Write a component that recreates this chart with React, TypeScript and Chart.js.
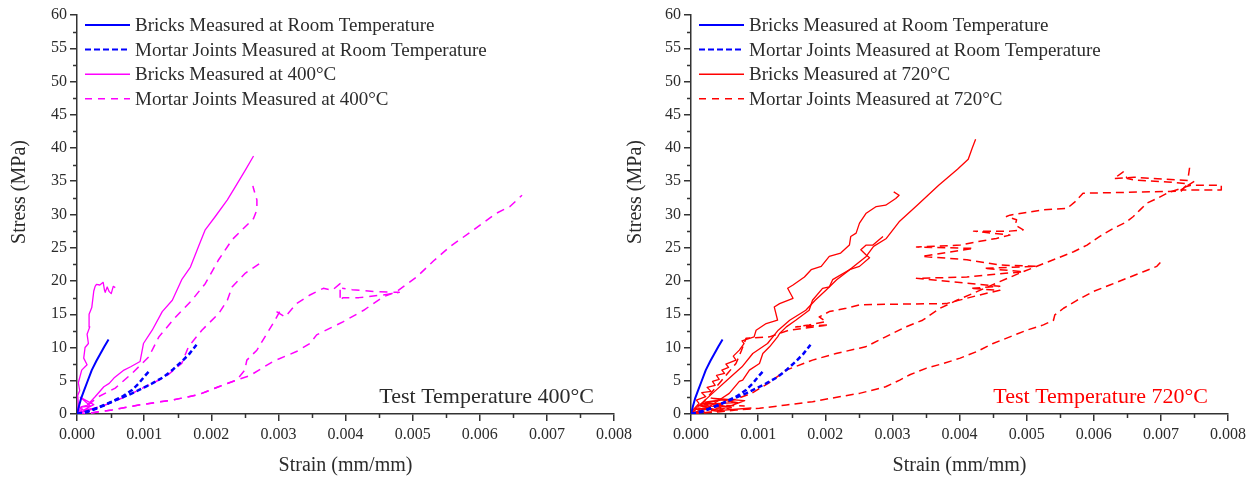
import React, { useEffect, useRef } from "react";
import { Chart, registerables } from "chart.js";

Chart.register(...registerables);

type Pt = [number, number];

// ---------- shared room-temperature curves (strain mm/mm, stress MPa) ----------
const bricksRoom: Pt[] = [
  [0, 0], [0.00003, 1.2], [0.00006, 2.3], [0.0001, 3.4], [0.00016, 5.0], [0.00022, 6.6],
  [0.00029, 8.0], [0.00035, 9.1], [0.00041, 10.2], [0.00047, 11.2],
];
const mortarRoomA: Pt[] = [
  [0, 0], [0.00017, 0.35], [0.00042, 1.35], [0.00067, 2.6], [0.00082, 3.6], [0.00092, 4.6],
  [0.001, 5.6], [0.00109, 6.6],
];
const mortarRoomB: Pt[] = [
  [0, 0], [0.00022, 0.6], [0.00052, 1.85], [0.00082, 3.1], [0.00112, 4.6], [0.00128, 5.5],
  [0.00142, 6.6], [0.00155, 7.8], [0.00167, 9.0], [0.00178, 10.4],
];

// ---------- 400 °C ----------
const bricks400A: Pt[] = [
  [0, 0], [0.00002, 1.5], [0.00001, 2.8], [0.00004, 3.5], [0.00002, 4.7], [0.00007, 6.6],
  [0.00015, 7.4], [0.0001, 8.4], [0.00012, 10.0], [0.00017, 10.6], [0.00015, 12.0],
  [0.00019, 13.1], [0.00018, 15.0], [0.00022, 16.0], [0.00025, 18.5], [0.00027, 19.2],
  [0.00029, 19.5], [0.00034, 19.4], [0.00039, 19.8], [0.00041, 18.6], [0.00042, 18.3],
  [0.00045, 19.1], [0.00048, 18.4], [0.00051, 18.1], [0.00054, 19.2], [0.00057, 19.0],
];
const bricks400B: Pt[] = [
  [0, 0], [0.00007, 1.1], [0.00015, 1.3], [0.00027, 2.6], [0.0004, 4.1], [0.00048, 4.6],
  [0.00055, 5.4], [0.0007, 6.6], [0.0008, 7.1], [0.00094, 7.9], [0.00099, 10.6],
  [0.00112, 12.6], [0.00127, 15.4], [0.00142, 17.1], [0.00156, 20.2], [0.00169, 22.1],
  [0.00181, 25.2], [0.00191, 27.7], [0.00206, 29.7], [0.00224, 32.2], [0.00236, 34.2],
  [0.00251, 36.7], [0.00263, 38.8],
];
const bricks400C: Pt[] = [
  [0, 0], [0.00012, 0.4], [0.00003, 1.0], [0.0002, 1.2], [0.00005, 2.5], [0.00025, 1.4],
  [0.0001, 0.6], [0.0003, 0.9], [0.00002, 0.2],
];
const mortar400A: Pt[] = [
  [0, 0], [0.00007, 0.6], [0.00032, 2.6], [0.00057, 3.9], [0.00082, 6.1], [0.00107, 8.6],
  [0.00122, 11.6], [0.00147, 14.6], [0.00171, 17.1], [0.00191, 19.6], [0.00211, 23.2],
  [0.00231, 26.2], [0.00251, 28.2], [0.00263, 29.4], [0.00268, 30.7], [0.00268, 32.2],
  [0.00263, 33.9], [0.00262, 34.3],
];
const mortar400B: Pt[] = [
  [0, 0], [0.0001, 0.4], [0.00042, 1.35], [0.00072, 2.6], [0.00102, 4.1], [0.00132, 5.6],
  [0.00156, 7.6], [0.00166, 10.1], [0.00186, 12.6], [0.00211, 15.1], [0.00224, 17.1],
  [0.00231, 19.1], [0.00251, 21.2], [0.00276, 22.9],
];
const mortar400C: Pt[] = [
  [0, 0], [0.0001, 0], [0.00052, 0.6], [0.00092, 1.35], [0.00142, 2.1], [0.00181, 2.9],
  [0.00211, 4.1], [0.00238, 5.1], [0.00258, 5.8], [0.00292, 7.9], [0.00327, 9.4],
  [0.00347, 10.6], [0.00357, 11.9], [0.00397, 13.9], [0.00427, 15.6], [0.00456, 17.6],
  [0.00476, 18.4], [0.00506, 20.6], [0.00531, 23.0], [0.00556, 25.2], [0.00591, 27.7],
  [0.00625, 30.2], [0.00645, 31.2], [0.00663, 32.9],
];
const mortar400D: Pt[] = [
  [0, 0], [0.0001, 0], [0.00052, 0.6], [0.00092, 1.35], [0.00142, 2.1], [0.00181, 2.9],
  [0.00211, 4.1], [0.00238, 5.1], [0.0025, 6.6], [0.00253, 8.1], [0.00268, 9.6],
  [0.00283, 12.1], [0.00295, 14.1], [0.00303, 15.6], [0.00297, 15.4], [0.0031, 14.6],
  [0.00327, 16.6], [0.00347, 17.9], [0.00367, 18.9], [0.0038, 18.6], [0.00392, 19.6],
  [0.00392, 17.0], [0.00396, 17.5], [0.0042, 17.5], [0.00456, 17.9], [0.0048, 18.3],
  [0.00445, 18.4], [0.0041, 18.7], [0.00395, 18.9],
];

// ---------- 720 °C ----------
const bricks720A: Pt[] = [
  [0, 0], [0.00003, 0.6], [0.00012, 1.6], [0.00008, 2.1], [0.00022, 2.6], [0.00016, 3.2],
  [0.0003, 3.4], [0.00024, 4.0], [0.00036, 4.3], [0.00032, 4.9], [0.00042, 5.2],
  [0.00038, 5.8], [0.0005, 6.1], [0.00046, 6.6], [0.00056, 7.0], [0.00052, 7.5],
  [0.00067, 8.1], [0.00063, 8.7], [0.00072, 9.6], [0.00079, 10.6], [0.00076, 11.0],
  [0.00094, 11.6], [0.00097, 12.6], [0.00112, 13.6], [0.00129, 14.1], [0.00124, 16.1],
  [0.00132, 16.6], [0.00152, 17.4], [0.00144, 18.9], [0.00152, 19.4], [0.00169, 20.6],
  [0.00179, 21.7], [0.00194, 22.2], [0.00206, 23.7], [0.00223, 24.2], [0.00236, 25.4],
  [0.00238, 26.7], [0.00246, 27.2], [0.00251, 28.7], [0.00261, 30.2], [0.00276, 31.2],
  [0.0029, 31.4], [0.00305, 32.4], [0.0031, 32.9], [0.00302, 33.4],
];
const bricks720B: Pt[] = [
  [0, 0], [0.0001, 1.1], [0.00032, 3.1], [0.00054, 5.1], [0.00076, 7.1], [0.00092, 9.1],
  [0.00114, 10.6], [0.0013, 12.6], [0.00147, 14.1], [0.00171, 15.6], [0.00185, 17.1],
  [0.00201, 18.6], [0.00217, 20.2], [0.00239, 21.9], [0.00261, 23.7], [0.00272, 25.2],
  [0.00291, 26.4], [0.0031, 28.9], [0.00337, 31.4], [0.00353, 32.9], [0.00369, 34.4],
  [0.00397, 36.8], [0.00413, 38.3], [0.00419, 40.0], [0.00424, 41.3],
];
const bricks720C: Pt[] = [
  [0, 0], [0.00007, 0.3], [0.00027, 1.1], [0.00042, 2.1], [0.00057, 3.1], [0.00072, 4.9],
  [0.00077, 5.1], [0.00087, 6.6], [0.00102, 7.6], [0.00107, 9.1], [0.00117, 10.1],
  [0.00129, 11.6], [0.00132, 12.1], [0.00142, 13.1], [0.00156, 14.1], [0.00176, 15.6],
  [0.00181, 17.1], [0.00196, 18.9], [0.00206, 19.1], [0.00211, 20.2], [0.00236, 21.7],
  [0.00251, 22.2], [0.00266, 23.5], [0.00261, 23.9], [0.00253, 24.7], [0.00261, 25.4],
  [0.00271, 25.4], [0.00286, 26.7],
];
const bricks720D: Pt[] = [
  [0, 0], [0.0002, 0.3], [0.00005, 0.8], [0.0004, 0.6], [0.0001, 1.3], [0.0006, 1.0],
  [0.0002, 1.8], [0.0005, 2.2], [0.00015, 1.5], [0.0007, 1.7], [0.0003, 2.4], [0.0008, 2.0],
  [0.0004, 0.5], [0.0009, 0.9],
];
const mortar720A: Pt[] = [
  [0, 0], [0.0002, 0.2], [0.0004, 0.3], [0.00067, 0.6], [0.00102, 0.85], [0.00142, 1.35],
  [0.00181, 1.85], [0.00221, 2.6], [0.00251, 3.1], [0.0029, 4.1], [0.00311, 5.1],
  [0.00326, 5.9], [0.00351, 6.9], [0.00376, 7.6], [0.00401, 8.4], [0.00426, 9.4],
  [0.0045, 10.6], [0.00475, 11.6], [0.005, 12.6], [0.00525, 13.4], [0.0054, 14.1],
  [0.00542, 14.9], [0.00555, 15.9], [0.00575, 17.1], [0.00599, 18.4], [0.00624, 19.4],
  [0.00649, 20.4], [0.00674, 21.4], [0.00694, 22.2], [0.00701, 23.0],
];
const mortar720B: Pt[] = [
  [0, 0], [0.0003, 1.0], [0.0006, 2.0], [0.0009, 3.1], [0.00115, 4.6], [0.00142, 6.6],
  [0.00181, 8.1], [0.00216, 9.1], [0.00251, 9.9], [0.0026, 10.1], [0.0029, 11.6],
  [0.0032, 13.1], [0.00345, 14.1], [0.00371, 15.9], [0.00396, 17.1], [0.00426, 18.4],
  [0.0046, 19.9], [0.0049, 21.2], [0.0052, 22.4], [0.00545, 23.4], [0.0057, 24.4],
  [0.0059, 25.4], [0.00609, 26.7], [0.00629, 27.9], [0.00649, 28.9], [0.00659, 29.7],
  [0.00669, 30.7], [0.00679, 31.7], [0.00694, 32.4], [0.00709, 33.2], [0.00729, 33.9],
  [0.00745, 34.4], [0.0079, 34.4], [0.0079, 33.7], [0.0073, 33.7], [0.0075, 35.0],
];
const mortar720C: Pt[] = [
  [0, 0], [0.00017, 1.6], [0.00042, 4.6], [0.00067, 7.6], [0.00075, 9.5], [0.00082, 11.4],
  [0.00117, 11.6], [0.00146, 12.6], [0.00206, 13.4], [0.00156, 13.1], [0.00176, 13.4],
  [0.00201, 13.9], [0.00191, 14.6], [0.00206, 15.4], [0.00231, 15.9], [0.00251, 16.4],
  [0.0029, 16.5], [0.0038, 16.6], [0.0043, 17.9], [0.0046, 18.6], [0.00416, 18.9],
  [0.0046, 19.2], [0.00336, 20.4], [0.00411, 20.6], [0.00495, 21.4], [0.00436, 21.9],
  [0.00515, 22.2], [0.0046, 22.4], [0.00411, 23.2], [0.00344, 23.7], [0.00421, 24.9],
  [0.00336, 25.1], [0.00401, 25.4], [0.00426, 25.9], [0.00455, 26.4], [0.00475, 26.9],
  [0.00421, 27.5], [0.00475, 27.5], [0.00495, 27.7], [0.00483, 28.4], [0.00485, 29.2],
  [0.0047, 29.7], [0.00475, 29.9], [0.00525, 30.7], [0.0056, 30.9], [0.00572, 31.9],
  [0.00584, 33.2], [0.0073, 33.5], [0.0074, 34.6], [0.0071, 34.9], [0.0066, 35.2],
  [0.0065, 35.4], [0.00644, 36.4], [0.0063, 35.4], [0.0066, 35.6], [0.0074, 35.1],
  [0.00743, 37.2],
];
const mortar720D: Pt[] = [
  [0, 0], [0.0004, 0.4], [0.0001, 0.9], [0.0006, 0.7], [0.0002, 1.4], [0.0008, 1.2],
];

// ---------- axis ticks & labels ----------
const X_MIN = 0;
const X_MAX = 0.008;
const X_STEP = 0.001;
const X_MINOR = [0.0005, 0.0015, 0.0025, 0.0035, 0.0045, 0.0055, 0.0065, 0.0075];
const Y_MIN = 0;
const Y_MAX = 60;
const Y_STEP = 5;
const Y_MINOR = [2.5, 7.5, 12.5, 17.5, 22.5, 27.5, 32.5, 37.5, 42.5, 47.5, 52.5, 57.5];
const X_TITLE = "Strain (mm/mm)";
const Y_TITLE = "Stress (MPa)";

const LEGEND_400 = [
  "Bricks Measured at Room Temperature",
  "Mortar Joints Measured at Room Temperature",
  "Bricks Measured at 400°C",
  "Mortar Joints Measured at 400°C",
];
const LEGEND_720 = [
  "Bricks Measured at Room Temperature",
  "Mortar Joints Measured at Room Temperature",
  "Bricks Measured at 720°C",
  "Mortar Joints Measured at 720°C",
];
const NOTE_400 = "Test Temperature 400°C";
const NOTE_720 = "Test Temperature 720°C";

// ---------- styles ----------
const SERIF = '"Liberation Serif", "DejaVu Serif", serif';
const TEXT = "#2b2b2b";
const AXIS = "#333333";
const BLUE = "#0000FF";
const MAGENTA = "#FF00FF";
const RED = "#FF0000";

interface Style { color: string; dash: number[]; width: number }
const sBlueSolid: Style = { color: BLUE, dash: [], width: 2 };
const sBlueDash: Style = { color: BLUE, dash: [5, 3], width: 2.5 };
const sMag: Style = { color: MAGENTA, dash: [], width: 1.3 };
const sMagDash: Style = { color: MAGENTA, dash: [8, 6], width: 1.5 };
const sRed: Style = { color: RED, dash: [], width: 1.3 };
const sRedDash: Style = { color: RED, dash: [8, 5], width: 1.5 };

interface Setup {
  curves: { pts: Pt[]; style: Style }[];
  legend: { label: string; style: Style }[];
  note: string;
  noteColor: string;
  yAxisWidth: number;
  padRight: number;
  yTitleX: number;
}

function buildConfig(s: Setup): any {
  const datasets = s.curves.map((c) => ({
    data: c.pts.map((p) => ({ x: p[0], y: p[1] })),
    borderColor: c.style.color,
    backgroundColor: c.style.color,
    borderWidth: c.style.width,
    borderDash: c.style.dash,
    pointRadius: 0,
    pointHoverRadius: 0,
    fill: false,
    tension: 0,
    borderJoinStyle: "round",
  }));

  const overlay = {
    id: "overlay",
    afterDraw(chart: any) {
      const { ctx, chartArea } = chart;
      const xs = chart.scales.x;
      const ys = chart.scales.y;
      ctx.save();
      // minor ticks
      ctx.strokeStyle = AXIS;
      ctx.lineWidth = 1.5;
      ctx.setLineDash([]);
      ctx.beginPath();
      for (const v of X_MINOR) {
        const px = Math.round(xs.getPixelForValue(v)) + 0.5;
        ctx.moveTo(px, chartArea.bottom);
        ctx.lineTo(px, chartArea.bottom + 4);
      }
      for (const v of Y_MINOR) {
        const py = Math.round(ys.getPixelForValue(v)) + 0.5;
        ctx.moveTo(chartArea.left, py);
        ctx.lineTo(chartArea.left - 4, py);
      }
      ctx.stroke();

      // legend
      ctx.font = `19px ${SERIF}`;
      ctx.textBaseline = "middle";
      ctx.textAlign = "left";
      s.legend.forEach((item, i) => {
        const y = chartArea.top + 10 + i * 24.6;
        ctx.strokeStyle = item.style.color;
        ctx.lineWidth = item.style.width;
        ctx.setLineDash(item.style.dash);
        ctx.beginPath();
        ctx.moveTo(chartArea.left + 8, y);
        ctx.lineTo(chartArea.left + 53, y);
        ctx.stroke();
        ctx.setLineDash([]);
        ctx.fillStyle = TEXT;
        ctx.fillText(item.label, chartArea.left + 58, y + 1);
      });

      // note
      ctx.font = `22px ${SERIF}`;
      ctx.textAlign = "right";
      ctx.fillStyle = s.noteColor;
      ctx.fillText(s.note, chartArea.right - 20, 397);

      // y title
      ctx.save();
      ctx.translate(s.yTitleX, 192);
      ctx.rotate(-Math.PI / 2);
      ctx.textAlign = "center";
      ctx.textBaseline = "middle";
      ctx.font = `20px ${SERIF}`;
      ctx.fillStyle = TEXT;
      ctx.fillText(Y_TITLE, 0, 0);
      ctx.restore();

      ctx.restore();
    },
  };

  return {
    type: "line",
    data: { datasets },
    plugins: [overlay],
    options: {
      responsive: false,
      maintainAspectRatio: false,
      animation: false,
      events: [],
      layout: { padding: { top: 15, right: s.padRight, left: 0, bottom: 0 } },
      plugins: { legend: { display: false }, tooltip: { enabled: false } },
      scales: {
        x: {
          type: "linear",
          min: X_MIN,
          max: X_MAX,
          ticks: {
            stepSize: X_STEP,
            callback: (v: any) => Number(v).toFixed(3),
            font: { family: SERIF, size: 16 },
            color: TEXT,
            padding: 4,
            maxRotation: 0,
            autoSkip: false,
          },
          grid: { display: true, drawOnChartArea: false, drawTicks: true, tickLength: 7, color: AXIS, lineWidth: 1.5 },
          border: { display: true, color: AXIS, width: 1.5 },
          title: {
            display: true,
            text: X_TITLE,
            font: { family: SERIF, size: 20 },
            color: TEXT,
            padding: { top: 0, bottom: 0 },
          },
          afterFit: (sc: any) => {
            sc.height = 64;
            sc.paddingLeft = 0;
            sc.paddingRight = 0;
          },
        },
        y: {
          type: "linear",
          min: Y_MIN,
          max: Y_MAX,
          ticks: {
            stepSize: Y_STEP,
            font: { family: SERIF, size: 16 },
            color: TEXT,
            padding: 3,
          },
          grid: { display: true, drawOnChartArea: false, drawTicks: true, tickLength: 7, color: AXIS, lineWidth: 1.5 },
          border: { display: true, color: AXIS, width: 1.5 },
          title: { display: false },
          afterFit: (sc: any) => {
            sc.width = s.yAxisWidth;
            sc.paddingTop = 0;
            sc.paddingBottom = 0;
          },
        },
      },
    },
  };
}

const setup400: Setup = {
  curves: [
    { pts: bricksRoom, style: sBlueSolid },
    { pts: mortarRoomA, style: sBlueDash },
    { pts: mortarRoomB, style: sBlueDash },
    { pts: bricks400A, style: sMag },
    { pts: bricks400B, style: sMag },
    { pts: bricks400C, style: sMag },
    { pts: mortar400A, style: sMagDash },
    { pts: mortar400B, style: sMagDash },
    { pts: mortar400C, style: sMagDash },
    { pts: mortar400D, style: sMagDash },
  ],
  legend: [
    { label: LEGEND_400[0], style: sBlueSolid },
    { label: LEGEND_400[1], style: { color: BLUE, dash: [6, 3], width: 2 } },
    { label: LEGEND_400[2], style: { color: MAGENTA, dash: [], width: 1.5 } },
    { label: LEGEND_400[3], style: { color: MAGENTA, dash: [7, 6], width: 1.5 } },
  ],
  note: NOTE_400,
  noteColor: TEXT,
  yAxisWidth: 77,
  padRight: 36,
  yTitleX: 20,
};

const setup720: Setup = {
  curves: [
    { pts: bricksRoom, style: sBlueSolid },
    { pts: mortarRoomA, style: sBlueDash },
    { pts: mortarRoomB, style: sBlueDash },
    { pts: bricks720A, style: sRed },
    { pts: bricks720B, style: sRed },
    { pts: bricks720C, style: sRed },
    { pts: bricks720D, style: sRed },
    { pts: mortar720A, style: sRedDash },
    { pts: mortar720B, style: sRedDash },
    { pts: mortar720C, style: sRedDash },
    { pts: mortar720D, style: sRedDash },
  ],
  legend: [
    { label: LEGEND_720[0], style: sBlueSolid },
    { label: LEGEND_720[1], style: { color: BLUE, dash: [6, 3], width: 2 } },
    { label: LEGEND_720[2], style: { color: RED, dash: [], width: 1.5 } },
    { label: LEGEND_720[3], style: { color: RED, dash: [7, 6], width: 1.5 } },
  ],
  note: NOTE_720,
  noteColor: RED,
  yAxisWidth: 66,
  padRight: 22,
  yTitleX: 11,
};

function StressChart({ setup, left, width }: { setup: Setup; left: number; width: number }) {
  const ref = useRef<HTMLCanvasElement | null>(null);
  useEffect(() => {
    if (!ref.current) return;
    const chart = new Chart(ref.current, buildConfig(setup));
    return () => chart.destroy();
  }, [setup]);
  return (
    <canvas
      ref={ref}
      width={width}
      height={478}
      style={{ position: "absolute", left, top: 0, width, height: 478 }}
    />
  );
}

export default function App() {
  return (
    <div style={{ position: "absolute", left: 0, top: 0, width: 1250, height: 478, background: "#fff", overflow: "hidden" }}>
      <StressChart setup={setup400} left={0} width={650} />
      <StressChart setup={setup720} left={625} width={625} />
    </div>
  );
}
